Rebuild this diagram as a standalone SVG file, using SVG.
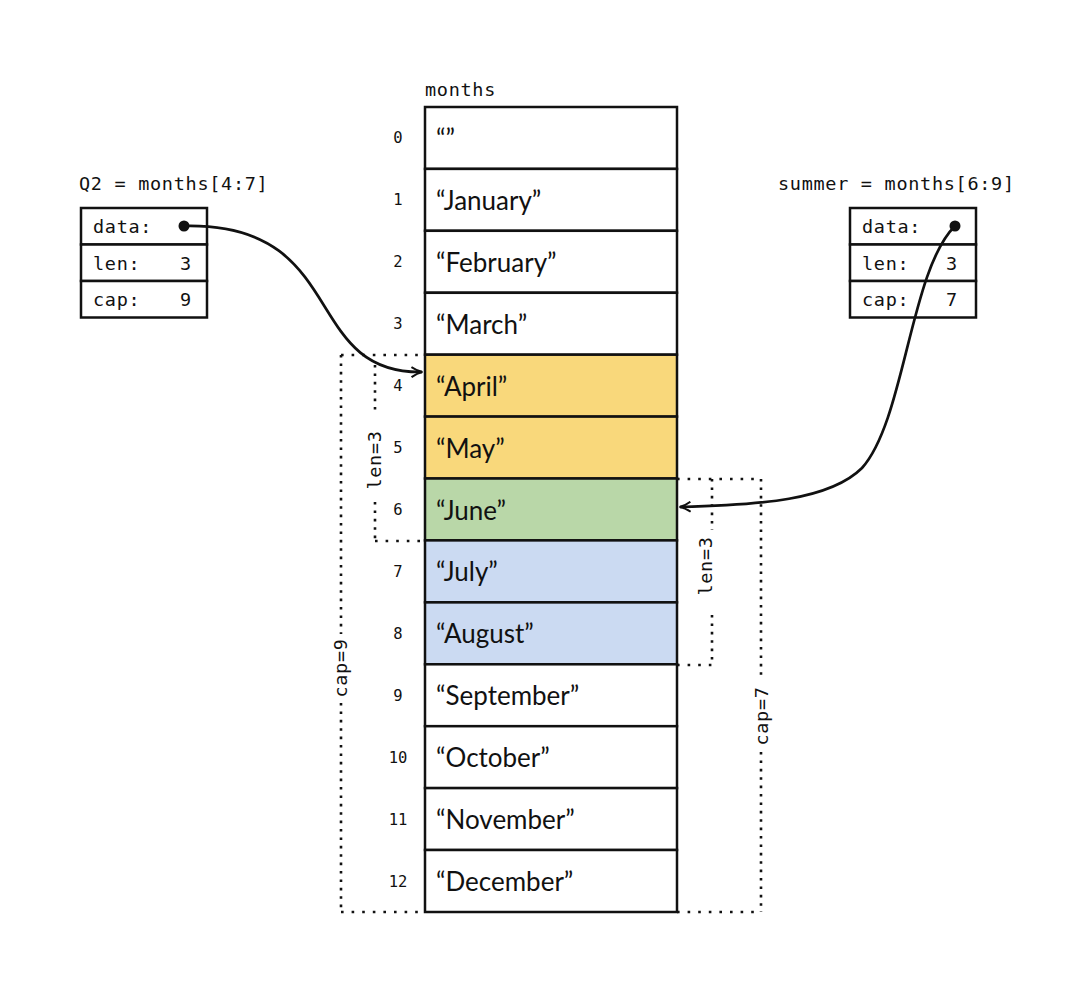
<svg xmlns="http://www.w3.org/2000/svg" width="1078" height="999" viewBox="0 0 1078 999">
<style>
.mono{font-family:"DejaVu Sans Mono","Liberation Mono",monospace;font-size:18.5px;letter-spacing:0.7px;fill:#111}
.idx{font-family:"DejaVu Sans Mono","Liberation Mono",monospace;font-size:15.5px;fill:#111;text-anchor:middle}
.month{font-family:Lato,"Open Sans",sans-serif;font-size:26px;fill:#111}
.cell{stroke:#111;stroke-width:2.5}
.box{fill:#fff;stroke:#111;stroke-width:2.5}
.dv{stroke:#111;stroke-width:2.6;stroke-dasharray:2.6 5.8;fill:none}
.dh{stroke:#111;stroke-width:2.6;stroke-dasharray:2.6 8;fill:none}
.ptr{fill:none;stroke:#111;stroke-width:2.7}
.w{fill:#fff}.y{fill:#F9D87B}.g{fill:#B9D7A8}.b{fill:#CBDAF2}
</style>
<defs>
<marker id="arr" viewBox="0 0 12 12" refX="11" refY="6" markerWidth="12" markerHeight="12" markerUnits="userSpaceOnUse" orient="auto">
<path d="M0.5,1 Q6,5 11.5,6 Q6,7 0.5,11" fill="none" stroke="#111" stroke-width="2"/>
</marker>
</defs>
<rect width="1078" height="999" fill="#fff"/>

<g id="months">
<text class="mono" x="425" y="96">months</text>
<rect class="cell w" x="425" y="107" width="252" height="61.9"/>
<rect class="cell w" x="425" y="168.9" width="252" height="61.9"/>
<rect class="cell w" x="425" y="230.8" width="252" height="61.9"/>
<rect class="cell w" x="425" y="292.8" width="252" height="61.9"/>
<rect class="cell y" x="425" y="354.7" width="252" height="61.9"/>
<rect class="cell y" x="425" y="416.6" width="252" height="61.9"/>
<rect class="cell g" x="425" y="478.5" width="252" height="61.9"/>
<rect class="cell b" x="425" y="540.4" width="252" height="61.9"/>
<rect class="cell b" x="425" y="602.4" width="252" height="61.9"/>
<rect class="cell w" x="425" y="664.3" width="252" height="61.9"/>
<rect class="cell w" x="425" y="726.2" width="252" height="61.9"/>
<rect class="cell w" x="425" y="788.1" width="252" height="61.9"/>
<rect class="cell w" x="425" y="850" width="252" height="62"/>
<text class="month" x="436" y="148">“”</text>
<text class="month" x="436" y="210">“January”</text>
<text class="month" x="436" y="272">“February”</text>
<text class="month" x="436" y="334">“March”</text>
<text class="month" x="436" y="396">“April”</text>
<text class="month" x="436" y="458">“May”</text>
<text class="month" x="436" y="520">“June”</text>
<text class="month" x="436" y="581">“July”</text>
<text class="month" x="436" y="643">“August”</text>
<text class="month" x="436" y="705">“September”</text>
<text class="month" x="436" y="767">“October”</text>
<text class="month" x="436" y="829">“November”</text>
<text class="month" x="436" y="891">“December”</text>
<text class="idx" x="398" y="143">0</text>
<text class="idx" x="398" y="205">1</text>
<text class="idx" x="398" y="267">2</text>
<text class="idx" x="398" y="329">3</text>
<text class="idx" x="398" y="391">4</text>
<text class="idx" x="398" y="453">5</text>
<text class="idx" x="398" y="515">6</text>
<text class="idx" x="398" y="577">7</text>
<text class="idx" x="398" y="639">8</text>
<text class="idx" x="398" y="701">9</text>
<text class="idx" x="398" y="763">10</text>
<text class="idx" x="398" y="825">11</text>
<text class="idx" x="398" y="887">12</text>
</g>

<g id="q2">
<text class="mono" x="79" y="190">Q2 = months[4:7]</text>
<rect class="box" x="81" y="208" width="126" height="36.5"/>
<rect class="box" x="81" y="244.5" width="126" height="36.5"/>
<rect class="box" x="81" y="281" width="126" height="36.5"/>
<text class="mono" x="93" y="233">data:</text>
<text class="mono" x="93" y="270">len:</text>
<text class="mono" x="93" y="306">cap:</text>
<text class="mono" x="180" y="270">3</text>
<text class="mono" x="180" y="306">9</text>
<circle cx="184" cy="226" r="5.5" fill="#111"/>
</g>

<g id="summer">
<text class="mono" x="778" y="190">summer = months[6:9]</text>
<rect class="box" x="850" y="208" width="126" height="36.5"/>
<rect class="box" x="850" y="244.5" width="126" height="36.5"/>
<rect class="box" x="850" y="281" width="126" height="36.5"/>
<text class="mono" x="862" y="233">data:</text>
<text class="mono" x="862" y="270">len:</text>
<text class="mono" x="862" y="306">cap:</text>
<text class="mono" x="946" y="270">3</text>
<text class="mono" x="946" y="306">7</text>
<circle cx="955" cy="226" r="5.5" fill="#111"/>
</g>

<g id="q2-ranges">
<path class="dh" d="M341,355 H425"/>
<path class="dh" d="M341,912 H425"/>
<path class="dv" d="M341,355 V634"/>
<path class="dv" d="M341,703 V912"/>
<text class="mono" transform="translate(347,668) rotate(-90)" text-anchor="middle">cap=9</text>
<path class="dv" d="M375,365 V414"/>
<path class="dv" d="M375,502 V541"/>
<path class="dh" d="M375,541 H425"/>
<text class="mono" transform="translate(381,460) rotate(-90)" text-anchor="middle">len=3</text>
</g>

<g id="summer-ranges">
<path class="dh" d="M677,479 H761"/>
<path class="dh" d="M677,912 H761"/>
<path class="dv" d="M761,479 V680"/>
<path class="dv" d="M761,752 V912"/>
<text class="mono" transform="translate(768,716) rotate(-90)" text-anchor="middle">cap=7</text>
<path class="dv" d="M712,479 V530"/>
<path class="dv" d="M712,615 V665"/>
<path class="dh" d="M677,665 H712"/>
<text class="mono" transform="translate(712,566) rotate(-90)" text-anchor="middle">len=3</text>
</g>

<g id="connectors">
<path class="ptr" marker-end="url(#arr)" d="M184,226 C350,222 300,374 422,372"/>
<path class="ptr" marker-end="url(#arr)" d="M955,226 C910,270 905,420 862,468 C830,500 760,505 680,507"/>
</g>
</svg>
